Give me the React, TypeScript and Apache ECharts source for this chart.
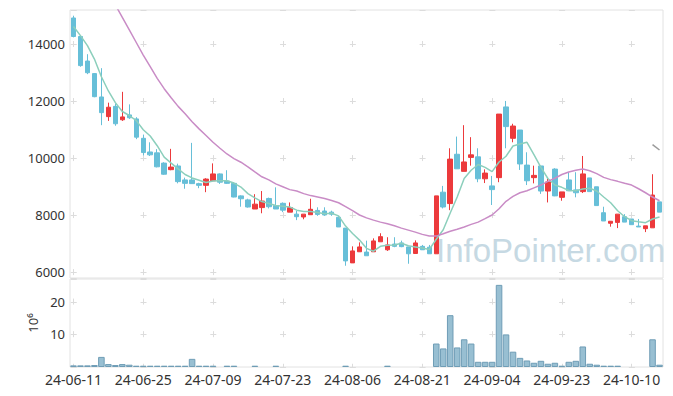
import React, { useEffect, useRef } from "react";
import * as echarts from "echarts";

const dates = [
  "24-06-11","24-06-12","24-06-13","24-06-14","24-06-17","24-06-18","24-06-19","24-06-20","24-06-21","24-06-24",
  "24-06-25","24-06-26","24-06-27","24-06-28","24-07-01","24-07-02","24-07-03","24-07-04","24-07-05","24-07-08",
  "24-07-09","24-07-10","24-07-11","24-07-12","24-07-15","24-07-16","24-07-17","24-07-18","24-07-19","24-07-22",
  "24-07-23","24-07-24","24-07-25","24-07-26","24-07-29","24-07-30","24-07-31","24-08-01","24-08-02","24-08-05",
  "24-08-06","24-08-07","24-08-08","24-08-09","24-08-12","24-08-13","24-08-14","24-08-16","24-08-19","24-08-20",
  "24-08-21","24-08-22","24-08-23","24-08-26","24-08-27","24-08-28","24-08-29","24-08-30","24-09-02","24-09-03",
  "24-09-04","24-09-05","24-09-06","24-09-09","24-09-10","24-09-11","24-09-12","24-09-13","24-09-19","24-09-20",
  "24-09-23","24-09-24","24-09-25","24-09-26","24-09-27","24-09-30","24-10-02","24-10-04","24-10-07","24-10-08",
  "24-10-10","24-10-11","24-10-14","24-10-15","24-10-16"
];

const opens = [
  14920,14270,13410,12970,12150,11460,11820,11350,11520,11380,
  10700,10220,10190,9830,9600,9730,9240,9240,9110,9050,
  9210,9450,9200,9120,8680,8540,8220,8270,8590,8340,
  8420,8110,8040,7940,8020,8170,8150,8110,7930,7550,
  6330,6720,6710,6720,7070,6790,6990,7030,6890,6660,
  6910,6880,6650,8810,8410,10140,9540,10030,10050,9280,
  9030,9320,11800,10700,10990,9760,9320,9730,8850,9620,
  8630,9240,8890,8830,9310,9000,8090,7720,7750,7950,
  7870,7620,7530,7560,8470
];
const closes = [
  14270,13250,13000,12160,11600,11790,11210,11450,11420,10740,
  10200,10120,9700,9440,9690,9180,9120,9110,9050,9270,
  9450,9160,9120,8640,8580,8290,8390,8500,8300,8220,
  8180,8270,7950,8040,8210,8030,8010,8040,7590,6400,
  6750,6890,6580,7100,7250,6960,6910,6900,6650,7030,
  6790,6650,8680,8290,9970,9630,9870,10120,9280,9480,
  8900,11550,11110,11130,9800,9210,9400,8850,9170,8680,
  8820,8860,8790,9450,8830,8340,7800,7790,8040,7760,
  7670,7590,7630,8710,8110
];
const lows = [
  14240,13210,12950,12140,11160,11310,11140,11310,11380,10670,
  10100,10080,9680,9420,9580,9120,8930,9100,8950,8810,
  9210,9100,9100,8630,8300,8270,8220,8070,8240,8220,
  8110,8110,7830,7860,8020,7980,7980,7980,7590,6230,
  6330,6720,6580,6720,7070,6750,6880,6880,6300,6660,
  6790,6650,6650,8240,8180,9630,9540,9740,9160,9130,
  8360,9160,10350,10560,9590,9060,9120,8750,8450,8670,
  8510,8860,8630,8780,8830,8340,7800,7600,7550,7760,
  7670,7590,7410,7560,8110
];
const highs = [
  15000,14320,13650,12990,13160,11950,11920,12330,11890,11440,
  10830,10560,10320,9860,10330,9810,9320,10540,9140,9300,
  9820,9470,9580,9150,8700,8580,8740,8850,8620,8980,
  8450,8450,8150,8040,8580,8280,8280,8160,7970,7550,
  6910,7050,7110,7190,7370,7230,7230,7110,6890,7120,
  6960,6960,8680,9030,10350,10760,11160,10740,10350,9610,
  9380,11550,12010,11210,10990,10210,9740,9730,9300,9650,
  8820,9510,9510,10080,9310,9000,8300,7800,8040,8040,
  7870,7870,7630,9440,8470
];

const ma5 = [
  14620,14300,13950,13480,12860,12360,11950,11640,11500,11320,
  11000,10780,10440,10040,9830,9630,9430,9310,9230,9150,
  9200,9210,9210,9130,8990,8760,8610,8480,8410,8340,
  8320,8290,8180,8130,8130,8100,8050,8070,7980,7620,
  7360,7130,6840,6740,6910,6950,6960,7020,6930,6890,
  6850,6800,7160,7490,8080,8640,9290,9580,9780,9680,
  9530,9870,10070,10430,10500,10560,10130,9680,9290,9060,
  8980,8870,8860,8920,8950,8850,8640,8440,8160,7950,
  7810,7770,7740,7870,7940
];

const ma20 = [
  18000,17550,17100,16650,16250,15820,15380,14940,14500,14060,
  13620,13210,12800,12440,12120,11820,11560,11280,11030,10800,
  10560,10350,10150,9990,9860,9700,9520,9350,9240,9100,
  9000,8900,8850,8760,8690,8640,8590,8520,8440,8300,
  8160,8010,7910,7830,7760,7700,7630,7550,7480,7410,
  7330,7270,7270,7350,7440,7510,7590,7680,7760,7880,
  8010,8230,8490,8660,8790,8860,8960,9060,9190,9300,
  9430,9520,9580,9620,9560,9460,9330,9250,9190,9120,
  9060,8930,8790,8640,8510
];

const ma120 = [
  null,null,null,null,null,null,null,null,null,null,
  null,null,null,null,null,null,null,null,null,null,
  null,null,null,null,null,null,null,null,null,null,
  null,null,null,null,null,null,null,null,null,null,
  null,null,null,null,null,null,null,null,null,null,
  null,null,null,null,null,null,null,null,null,null,
  null,null,null,null,null,null,null,null,null,null,
  null,null,null,null,null,null,null,null,null,null,
  null,null,null,10480,10290
];

const volumes = [
  0.5,0.5,0.5,0.6,3.1,0.9,0.6,0.9,0.7,0.4,
  0.4,0.4,0.4,0.4,0.4,0.4,0.4,2.5,0.4,0.4,
  0.4,0,0.4,0.4,0,0,0.4,0,0,0.4,
  0,0,0,0,0,0,0,0,0,0.4,
  0,0,0,0,0,0.4,0,0,0,0,
  0,0,7.2,5.7,15.9,6.0,8.5,7.2,1.6,1.6,
  1.6,25.2,10.0,4.7,2.8,2.0,1.3,1.9,1.0,1.3,
  0.4,1.6,1.9,6.3,1.0,0.7,0.4,0.4,0.4,0,
  0,0,0,8.5,0.7
];

const W = 673, H = 396;
const GL = 70, GR = 10;
const T0 = 10, H0 = 268, PMIN = 5800, PMAX = 15200, PSTEP = 2000, PFIRST = 14000;
const T1 = 279, H1 = 88, VMAX = 27, VSTEP = 10, VFIRST = 20;

export default function App() {
  const ref = useRef<HTMLDivElement>(null);
  useEffect(() => {
    if (!ref.current) return;
    const chart = echarts.init(ref.current, undefined, { renderer: "svg" });
    const up = "#ec3a3c";
    const down = "#67bfd8";
    const gridColor = "#dcdcdc";
    const plotW = W - GL - GR;
    const catW = plotW / dates.length;
    const arm = 3;
    const hSpacing = catW * 10;
    const hOffset = hSpacing - (catW / 2 - arm);
    const pPx = H0 / (PMAX - PMIN);
    const vSp0 = PSTEP * pPx;
    const vOff0 = vSp0 - (((PMAX - PFIRST) * pPx - arm) % vSp0);
    const vPx = H1 / VMAX;
    const vSp1 = VSTEP * vPx;
    const vOff1 = vSp1 - (((VMAX - VFIRST) * vPx - arm) % vSp1);

    const candleData = dates.map((_, i) => [opens[i], closes[i], lows[i], highs[i]]);
    const volData = volumes.map((v) => (v > 0 ? v : "-"));
    const font = "'Noto Sans', sans-serif";

    chart.setOption({
      animation: false,
      grid: [
        { left: GL, right: GR, top: T0, height: H0, show: true, borderColor: "#e2e2e2", borderWidth: 1 },
        { left: GL, right: GR, top: T1, height: H1, show: true, borderColor: "#e2e2e2", borderWidth: 1 },
      ],
      xAxis: [
        {
          type: "category", gridIndex: 0, data: dates, boundaryGap: true,
          axisLine: { show: false }, axisTick: { show: false }, axisLabel: { show: false },
          splitLine: { show: true, interval: 9, alignWithLabel: true,
            lineStyle: { color: gridColor, width: 1, type: [arm * 2, vSp0 - arm * 2], dashOffset: vOff0 } },
        },
        {
          type: "category", gridIndex: 1, data: dates, boundaryGap: true,
          axisLine: { show: false }, axisTick: { show: false },
          axisLabel: { interval: 9, color: "#333", fontSize: 14, fontFamily: font, margin: 5 },
          splitLine: { show: true, interval: 9, alignWithLabel: true,
            lineStyle: { color: gridColor, width: 1, type: [arm * 2, vSp1 - arm * 2], dashOffset: vOff1 } },
        },
      ],
      yAxis: [
        {
          type: "value", gridIndex: 0, min: PMIN, max: PMAX,
          axisLine: { show: false }, axisTick: { show: false },
          axisLabel: { color: "#333", fontSize: 13, fontFamily: font, margin: 5, showMinLabel: false, showMaxLabel: false,
            formatter: (v: number) => String(v) },
          splitLine: { show: true, lineStyle: { color: gridColor, width: 1, type: [arm * 2, hSpacing - arm * 2], dashOffset: hOffset } },
        },
        {
          type: "value", gridIndex: 1, min: 0, max: VMAX, interval: VSTEP,
          name: "10⁶", nameLocation: "middle", nameGap: 31, nameRotate: 90,
          nameTextStyle: { color: "#333", fontSize: 13, fontFamily: font },
          axisLine: { show: false }, axisTick: { show: false },
          axisLabel: { color: "#333", fontSize: 13, fontFamily: font, margin: 5, showMinLabel: false, showMaxLabel: false },
          splitLine: { show: true, lineStyle: { color: gridColor, width: 1, type: [arm * 2, hSpacing - arm * 2], dashOffset: hOffset } },
        },
      ],
      graphic: [
        {
          type: "text", left: 436, top: 234, z: 0,
          style: { text: "InfoPointer.com", fontSize: 33, fontFamily: "'Liberation Sans', sans-serif", fill: "#c6d9e3" },
        },
      ],
      series: [
        {
          type: "candlestick", xAxisIndex: 0, yAxisIndex: 0, data: candleData, barWidth: 5,
          itemStyle: { color: up, color0: down, borderColor: up, borderColor0: down, borderWidth: 1 },
        },
        { type: "line", xAxisIndex: 0, yAxisIndex: 0, data: ma5, symbol: "none", lineStyle: { color: "#8ccfbc", width: 1.5 } },
        { type: "line", xAxisIndex: 0, yAxisIndex: 0, data: ma20, symbol: "none", lineStyle: { color: "#c98cc6", width: 1.5 } },
        { type: "line", xAxisIndex: 0, yAxisIndex: 0, data: ma120, symbol: "none", lineStyle: { color: "#9a9a9a", width: 1.5 } },
        {
          type: "bar", xAxisIndex: 1, yAxisIndex: 1, data: volData, barCategoryGap: "6%",
          itemStyle: { color: "#98bfd2", borderColor: "#6f9db6", borderWidth: 1 },
        },
      ],
    });
    return () => chart.dispose();
  }, []);
  return <div ref={ref} style={{ position: "fixed", left: 0, top: 0, width: W, height: H, background: "#fff" }} />;
}
